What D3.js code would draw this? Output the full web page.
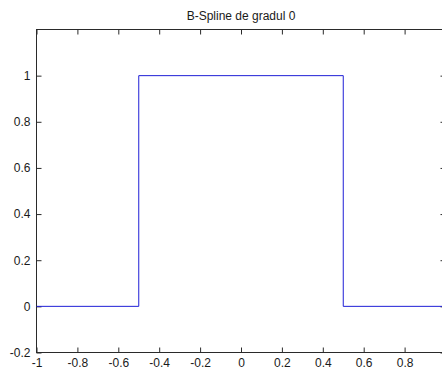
<!DOCTYPE html>
<html><head><meta charset="utf-8">
<script src="https://cdn.jsdelivr.net/npm/d3@7"></script>
<style>body{margin:0;background:#fff}svg{display:block}text{font-family:"Liberation Sans",Arial,sans-serif}</style>
</head><body>
<svg id="c" width="442" height="370"></svg>
<script>
const xs = [-1, -0.5, -0.5, 0.5, 0.5, 1];
const ys = [0, 0, 1, 1, 0, 0];
const xTicks = [-1, -0.8, -0.6, -0.4, -0.2, 0, 0.2, 0.4, 0.6, 0.8, 1];
const xTickLabels = ["-1", "-0.8", "-0.6", "-0.4", "-0.2", "0", "0.2", "0.4", "0.6", "0.8", ""];
const yTicks = [-0.2, 0, 0.2, 0.4, 0.6, 0.8, 1];
const yTickLabels = ["-0.2", "0", "0.2", "0.4", "0.6", "0.8", "1"];
const title = "B-Spline de gradul 0";

const svg = d3.select("#c");
const L = 36.5, R = 445.5, T = 29.5, B = 352.5;
const x = d3.scaleLinear().domain([-1, 1]).range([L, R]);
const y = d3.scaleLinear().domain([-0.2, 1.2]).range([B, T]);
const axCol = "#2a2a2a", txtCol = "#1a1a1a";

svg.append("rect").attr("x", L).attr("y", T).attr("width", R - L).attr("height", B - T)
  .attr("fill", "none").attr("stroke", axCol).attr("stroke-width", 1);

function style(g) {
  g.select(".domain").remove();
  g.selectAll("line").attr("stroke", axCol);
  g.selectAll("text").attr("fill", txtCol).style("font-size", "12px");
}
svg.append("g").attr("transform", `translate(0,${B})`)
  .call(d3.axisBottom(x).tickValues(xTicks).tickSize(-5).tickPadding(6)
    .tickFormat((d, i) => xTickLabels[i])).call(style);
svg.append("g").attr("transform", `translate(0,${T})`)
  .call(d3.axisTop(x).tickValues(xTicks).tickSize(-5).tickFormat("")).call(style);
svg.append("g").attr("transform", `translate(${L},0)`)
  .call(d3.axisLeft(y).tickValues(yTicks).tickSize(-5).tickPadding(6)
    .tickFormat((d, i) => yTickLabels[i])).call(style);
svg.append("g").attr("transform", `translate(${R},0)`)
  .call(d3.axisRight(y).tickValues(yTicks).tickSize(-5).tickFormat("")).call(style);

const pts = xs.map((v, i) => [v, ys[i]]);
svg.append("path").datum(pts)
  .attr("d", d3.line().x(d => x(d[0])).y(d => y(d[1])))
  .attr("fill", "none").attr("stroke", "#1f1fd6").attr("stroke-width", 1);

svg.append("text").attr("x", (L + R) / 2).attr("y", 20).attr("text-anchor", "middle")
  .attr("fill", txtCol).style("font-size", "12px").text(title);
</script>
</body></html>
